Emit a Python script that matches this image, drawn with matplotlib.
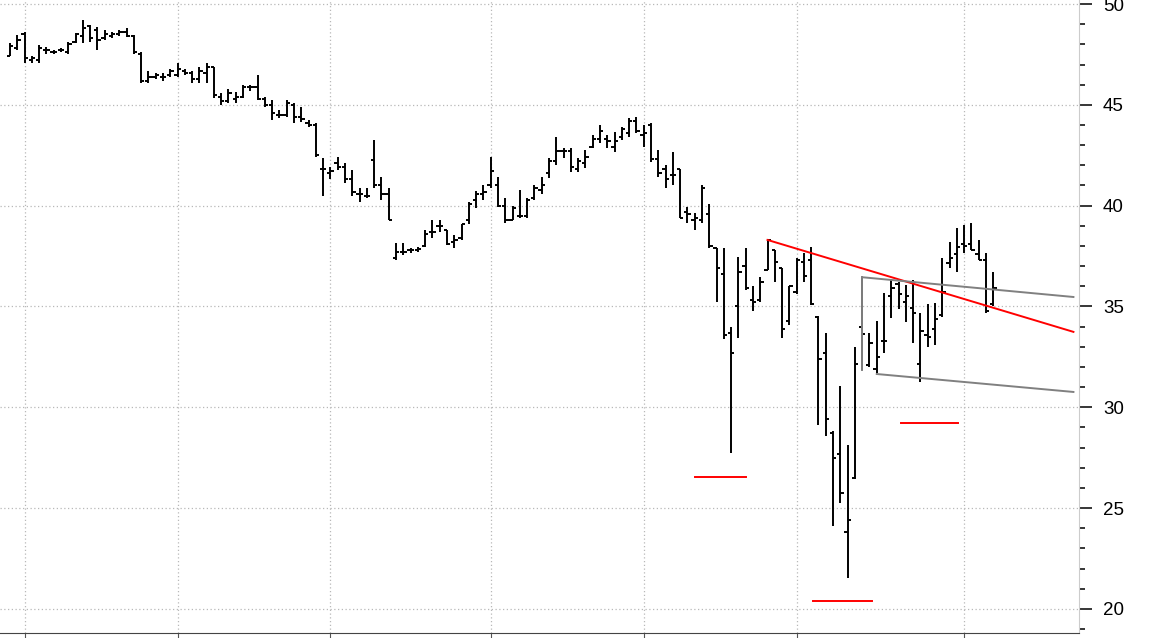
import matplotlib.pyplot as plt
import numpy as np

# daily OHLC bars, left tick = open, right tick = close
opens = [47.4, 47.8, 48.5, 47.2, 47.2, 47.7, 47.6, 47.7, 47.6, 48.1,
         48.4, 48.9, 48.7, 48.3, 48.4, 48.5, 48.6, 48.4, 47.5, 46.2,
         46.4, 46.4, 46.5, 46.5, 46.7, 46.6, 46.3, 46.6, 46.9, 45.4,
         45.2, 45.3, 45.4, 45.9, 45.9, 45.3, 45.0, 44.5, 44.5, 45.0,
         44.4, 44.1, 44.0, 41.8, 41.6, 42.1, 41.9, 41.3, 40.6, 40.5,
         42.25, 41.0, 40.6, 37.4, 37.7, 37.8, 37.8, 38.0, 38.7, 39.0,
         38.8, 38.2, 38.4, 39.3, 40.3, 40.6, 41.0, 41.0, 40.0, 39.3,
         39.5, 39.5, 40.4, 40.8, 41.6, 42.2, 42.7, 42.7, 41.8, 42.1,
         42.9, 43.3, 43.3, 42.9, 43.4, 43.6, 44.2, 43.5, 44.0, 42.3,
         41.8, 41.5, 41.8, 39.7, 39.3, 39.3, 39.6, 37.9, 36.6, 33.7,
         35.0, 37.0, 35.3, 35.3, 36.8, 37.8, 36.9, 34.3, 35.7, 37.2,
         37.3, 34.5, 32.7, 28.7, 27.7, 23.8, 26.5, 34.0, 32.1, 31.9,
         33.3, 35.5, 36.1, 35.2, 34.9, 32.15, 33.6, 33.9, 34.6, 37.15,
         37.6, 38.1, 38.1, 37.6, 37.3, 35.1]
highs = [48.07, 48.45, 48.6, 47.4, 47.95, 47.85, 47.7, 47.8, 48.1, 48.55,
         49.2, 48.95, 48.85, 48.7, 48.6, 48.7, 48.8, 48.45, 47.6, 46.7,
         46.6, 46.6, 46.8, 47.1, 46.8, 46.7, 46.9, 47.1, 46.9, 45.6,
         45.8, 45.65, 46.0, 46.0, 46.5, 45.4, 45.25, 44.75, 45.25, 45.1,
         44.9, 44.25, 44.1, 42.35, 41.9, 42.4, 42.1, 41.75, 40.9, 40.9,
         43.25, 41.4, 40.9, 38.15, 38.15, 37.9, 37.95, 38.8, 39.3, 39.3,
         38.8, 38.55, 39.1, 40.2, 40.75, 41.0, 42.4, 41.4, 40.4, 40.0,
         40.8, 40.4, 41.0, 41.4, 42.35, 43.4, 42.85, 42.85, 42.35, 42.75,
         43.5, 44.0, 43.5, 43.65, 43.9, 44.35, 44.4, 44.0, 44.1, 42.75,
         42.0, 42.65, 41.8, 39.95, 39.65, 41.0, 40.1, 37.9, 37.9, 34.0,
         37.45, 37.9, 36.0, 36.45, 38.3, 37.8, 36.9, 36.0, 37.4, 37.65,
         37.95, 34.55, 33.7, 28.8, 31.05, 28.15, 33.0, 36.45, 33.7, 34.3,
         35.65, 36.3, 36.2, 36.05, 36.3, 34.7, 35.1, 35.15, 37.4, 38.2,
         38.9, 39.05, 39.15, 38.3, 37.65, 36.7]
lows = [47.4, 47.7, 47.1, 47.1, 47.1, 47.5, 47.5, 47.6, 47.5, 48.05,
        48.05, 48.1, 47.7, 48.2, 48.3, 48.4, 48.35, 47.5, 46.1, 46.1,
        46.3, 46.2, 46.4, 46.4, 46.5, 46.1, 46.1, 46.1, 45.35, 45.0,
        45.1, 45.1, 45.35, 45.7, 45.25, 44.9, 44.25, 44.35, 44.4, 44.1,
        44.15, 43.9, 42.4, 40.5, 41.3, 41.75, 41.1, 40.5, 40.2, 40.4,
        40.9, 40.3, 39.3, 37.3, 37.55, 37.65, 37.7, 37.95, 38.4, 38.7,
        38.05, 37.9, 38.3, 39.1, 39.9, 40.3, 40.9, 39.95, 39.15, 39.3,
        39.4, 39.4, 40.3, 40.6, 41.35, 42.0, 42.35, 41.65, 41.65, 41.85,
        42.85, 43.1, 42.85, 42.65, 43.25, 43.4, 43.6, 42.9, 42.15, 41.4,
        40.9, 41.0, 39.4, 39.15, 38.8, 39.15, 37.9, 35.2, 33.4, 27.75,
        33.45, 35.8, 34.8, 35.2, 36.8, 36.2, 33.45, 34.1, 35.6, 36.2,
        35.05, 29.1, 28.6, 24.1, 25.25, 21.55, 26.45, 31.85, 32.0, 31.7,
        32.7, 34.45, 34.85, 34.25, 33.2, 31.25, 33.0, 33.1, 34.5, 36.9,
        36.7, 37.65, 37.8, 37.3, 34.7, 35.0]
closes = [47.9, 48.2, 47.3, 47.3, 47.8, 47.7, 47.6, 47.7, 48.0, 48.5,
          48.8, 48.3, 48.2, 48.5, 48.5, 48.6, 48.4, 47.6, 46.2, 46.4,
          46.5, 46.4, 46.7, 46.8, 46.6, 46.3, 46.7, 46.9, 45.5, 45.2,
          45.6, 45.4, 45.9, 45.9, 45.3, 45.0, 44.6, 44.5, 45.1, 44.4,
          44.3, 44.0, 42.5, 41.8, 41.7, 41.9, 41.3, 40.7, 40.6, 40.5,
          41.0, 40.6, 39.3, 37.7, 37.7, 37.8, 37.85, 38.6, 38.7, 39.0,
          38.1, 38.3, 39.1, 40.1, 40.6, 40.7, 41.7, 40.0, 39.3, 39.9,
          39.5, 40.3, 40.9, 41.0, 42.2, 42.7, 42.7, 41.9, 42.2, 42.4,
          43.3, 43.7, 43.2, 43.2, 43.8, 44.2, 43.7, 43.6, 42.3, 41.6,
          41.3, 41.5, 39.4, 39.6, 39.4, 40.9, 38.0, 36.9, 33.6, 32.7,
          36.7, 35.9, 35.2, 36.2, 38.3, 37.2, 33.9, 36.0, 37.3, 36.5,
          35.1, 32.4, 29.4, 27.5, 25.75, 24.4, 32.15, 33.65, 33.2, 32.5,
          33.3, 35.9, 35.6, 35.5, 34.7, 33.8, 33.5, 34.4, 35.7, 37.4,
          37.95, 38.0, 37.8, 37.3, 34.8, 35.9]

# bar index where each month starts
month_starts = [2, 23, 44, 66, 87, 108, 131]

# drawn studies: (bar index, price) end points
red_trend = ([104, 146], [38.3, 33.74])
upper_channel = ([117, 146], [36.45, 35.47])
lower_channel = ([119, 146], [31.65, 30.76])
support_levels = [([94.1, 101.1], 26.55), ([110.2, 118.3], 20.4), ([122.3, 130.1], 29.23)]

fig = plt.figure(figsize=(11.63, 6.38), dpi=100)
ax = fig.add_axes([0, 0.008, 0.928, 0.992])

idx = np.arange(len(opens))
ax.vlines(idx, lows, highs, color='black', lw=1.4)
ax.hlines(opens, idx - 0.45, idx, color='black', lw=1.4)
ax.hlines(closes, idx, idx + 0.45, color='black', lw=1.4)

ax.plot(*red_trend, color='red', lw=1.4)
ax.plot(*upper_channel, color='gray', lw=1.4)
ax.plot(*lower_channel, color='gray', lw=1.4)
ax.plot([upper_channel[0][0]] * 2, [upper_channel[1][0], lows[117]], color='gray', lw=1.4)
for xs, lvl in support_levels:
    ax.plot(xs, [lvl, lvl], color='red', lw=1.4)

ax.set_xlim(-1.37, 146.8)
ax.set_ylim(18.81, 50.2)

ax.yaxis.tick_right()
ax.set_yticks(range(20, 51, 5))
ax.set_yticks(range(19, 51), minor=True)
ax.tick_params(axis='y', which='major', direction='out', length=9, width=1.1, pad=8,
               labelsize=13.5, colors='black')
ax.tick_params(axis='y', which='minor', direction='out', length=4.5, width=1.1)
ax.set_xticks(month_starts)
ax.set_xticklabels([])
ax.tick_params(axis='x', direction='out', length=4, width=0.8, color='#555555')

ax.grid(True, which='major', color='#b8b8b8', linestyle=(0, (1, 2)), lw=0.9)
ax.set_axisbelow(True)

for s in ['left', 'top']:
    ax.spines[s].set_visible(False)
ax.spines['right'].set_color('#cccccc')
ax.spines['bottom'].set_color('#444444')

for lab in ax.get_yticklabels():
    lab.set_family('Liberation Sans')

fig.savefig('out.png', dpi=100)
